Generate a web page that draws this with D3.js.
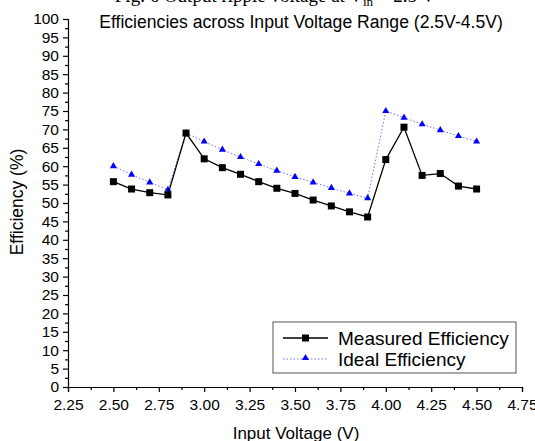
<!DOCTYPE html>
<html>
<head>
<meta charset="utf-8">
<script src="https://cdn.jsdelivr.net/npm/d3@7"></script>
<style>
body{margin:0;background:#fff;}
text{font-family:Arial,"Liberation Sans",sans-serif;}
</style>
</head>
<body>
<script>
var voltage = [2.5,2.6,2.7,2.8,2.9,3.0,3.1,3.2,3.3,3.4,3.5,3.6,3.7,3.8,3.9,4.0,4.1,4.2,4.3,4.4,4.5];
var measured = [55.8,53.8,52.8,52.2,69.0,62.0,59.6,57.8,55.8,54.0,52.6,50.8,49.2,47.6,46.2,61.8,70.6,57.5,58.0,54.6,53.8];
var ideal = [60.0,57.7,55.6,53.6,69.0,66.7,64.5,62.5,60.6,58.8,57.1,55.6,54.1,52.6,51.3,75.0,73.2,71.4,69.8,68.2,66.7];
var xTicks = [2.25,2.50,2.75,3.00,3.25,3.50,3.75,4.00,4.25,4.50,4.75];
var yTicks = [0,5,10,15,20,25,30,35,40,45,50,55,60,65,70,75,80,85,90,95,100];

var margin = {top:19,left:68,bottom:54,right:13};
var totalWidth = 535;
var totalHeight = 441;
var width = totalWidth - margin.left - margin.right;
var height = totalHeight - margin.top - margin.bottom;

var root = d3.select("body")
    .append("svg")
    .attr("width",totalWidth)
    .attr("height",totalHeight);

// caption of the figure above, cut off by the crop
var cap = root.append("text")
    .attr("x",275).attr("y",2)
    .style("font-family","'Liberation Serif','Times New Roman',serif")
    .style("font-size","19px")
    .style("text-anchor","middle");
cap.append("tspan").text("Fig. 6 Output ripple voltage at V");
cap.append("tspan").attr("dy",4).style("font-size","13px").text("in");
cap.append("tspan").attr("dy",-4).text(" = 2.5 V");

var svg = root.append("g")
    .attr("transform","translate("+margin.left+","+margin.top+")");

var xScale = d3.scaleLinear().domain([2.25,4.75]).range([0,width]);
var yScale = d3.scaleLinear().domain([0,100]).range([height,0]);

// minor ticks
var xMinor = d3.range(0,20).map(function(i){return 2.375 + i*0.25;}).filter(function(v){return v<4.75;});
var yMinor = d3.range(0,40).map(function(i){return 2.5 + i*5;}).filter(function(v){return v<100;});

svg.append("g")
    .attr("transform","translate(0,"+height+")")
    .call(d3.axisBottom(xScale).tickValues(xMinor).tickSize(3).tickFormat(""))
    .call(function(g){g.select(".domain").remove();});
svg.append("g")
    .call(d3.axisLeft(yScale).tickValues(yMinor).tickSize(3).tickFormat(""))
    .call(function(g){g.select(".domain").remove();});

var xAxisGroup = svg.append("g")
    .attr("transform","translate(0,"+height+")");
var xAxis = d3.axisBottom(xScale)
    .tickValues(xTicks)
    .tickSizeOuter(0)
    .tickSize(5)
    .tickPadding(7)
    .tickFormat(d3.format(".2f"));
xAxis(xAxisGroup);
xAxisGroup.selectAll("text").style("font-size","15.5px").attr("fill","#000");

var yAxisGroup = svg.append("g");
var yAxis = d3.axisLeft(yScale)
    .tickValues(yTicks)
    .tickSizeOuter(0)
    .tickSize(5)
    .tickPadding(4);
yAxis(yAxisGroup);
yAxisGroup.selectAll("text").style("font-size","15.5px").attr("fill","#000");

svg.selectAll(".domain, .tick line").attr("stroke","#000").attr("stroke-width",1.2);

svg.append("text")
    .attr("x",233)
    .attr("y",9)
    .style("text-anchor","middle")
    .style("font-size","17.6px")
    .text("Efficiencies across Input Voltage Range (2.5V-4.5V)");

svg.append("text")
    .attr("transform","translate("+(296-margin.left)+","+(height+52)+")")
    .style("text-anchor","middle")
    .style("font-size","17px")
    .text("Input Voltage (V)");

svg.append("text")
    .attr("transform","rotate(-90)")
    .attr("x",0 - height/2 + 1)
    .attr("y",-45)
    .style("text-anchor","middle")
    .style("font-size","17.5px")
    .text("Efficiency (%)");

var line = d3.line()
    .x(function(d){return xScale(d[0]);})
    .y(function(d){return yScale(d[1]);});

var idealData = voltage.map(function(v,i){return [v,ideal[i]];});
var measData = voltage.map(function(v,i){return [v,measured[i]];});

svg.append("path")
    .datum(idealData)
    .attr("d",line)
    .attr("fill","none")
    .attr("stroke","#7070ff")
    .attr("stroke-width",1)
    .attr("stroke-dasharray","1.5,2");

var tri = d3.symbol().type(d3.symbolTriangle).size(22);
svg.selectAll(".tri")
    .data(idealData)
    .enter()
    .append("path")
    .attr("class","tri")
    .attr("d",tri)
    .attr("fill","#0000ff")
    .attr("transform",function(d){return "translate("+xScale(d[0])+","+yScale(d[1])+")";});

svg.append("path")
    .datum(measData)
    .attr("d",line)
    .attr("fill","none")
    .attr("stroke","#000")
    .attr("stroke-width",1.3);

svg.selectAll(".sq")
    .data(measData)
    .enter()
    .append("rect")
    .attr("class","sq")
    .attr("width",7).attr("height",7)
    .attr("x",function(d){return xScale(d[0])-3.5;})
    .attr("y",function(d){return yScale(d[1])-3.5;})
    .attr("fill","#000");

// legend
var lg = svg.append("g").attr("transform","translate("+(273-margin.left)+","+(322-margin.top)+")");
lg.append("rect")
    .attr("width",243).attr("height",51)
    .attr("fill","#fff").attr("stroke","#555").attr("stroke-width",1);
lg.append("line").attr("x1",10).attr("x2",55).attr("y1",16).attr("y2",16)
    .attr("stroke","#000").attr("stroke-width",1.3);
lg.append("rect").attr("x",29).attr("y",12.5).attr("width",7).attr("height",7).attr("fill","#000");
lg.append("line").attr("x1",10).attr("x2",55).attr("y1",37).attr("y2",37)
    .attr("stroke","#7070ff").attr("stroke-width",1).attr("stroke-dasharray","1.5,2");
lg.append("path").attr("d",tri).attr("fill","#0000ff").attr("transform","translate(32.5,36)");
lg.append("text").attr("x",65).attr("y",23).style("font-size","19px").text("Measured Efficiency");
lg.append("text").attr("x",65).attr("y",44).style("font-size","19px").text("Ideal Efficiency");
</script>
</body>
</html>
